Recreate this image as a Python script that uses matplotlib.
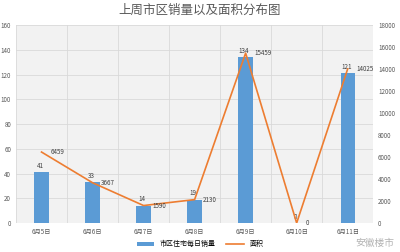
import matplotlib.pyplot as plt
import numpy as np

plt.rcParams['font.family'] = ['Noto Sans CJK SC', 'DejaVu Sans']

dates = ["6月5日", "6月6日", "6月7日", "6月8日", "6月9日", "6月10日", "6月11日"]
sales = [41, 33, 14, 19, 134, 0, 121]
area = [6459, 3667, 1590, 2130, 15459, 0, 14025]

fig = plt.figure(figsize=(4, 2.52), dpi=100)
ax = fig.add_axes([0.04, 0.115, 0.893, 0.785])
ax.set_facecolor("#f2f2f2")
x = np.arange(len(dates))

bars = ax.bar(x, sales, width=0.28, color="#5b9bd5", label="市区住宅每日销量", zorder=3)
ax.set_ylim(0, 160)
ax.set_yticks(range(0, 161, 20))
ax.set_xlim(-0.5, len(dates) - 0.5)
ax.set_xticks(x)
ax.set_xticklabels(dates)
ax.tick_params(axis="both", labelsize=4.5, colors="#595959", length=0)
ax.grid(axis="y", color="#d9d9d9", linewidth=0.6, zorder=0)
for b in np.arange(-0.5, len(dates), 1):
    ax.axvline(b, color="#d9d9d9", linewidth=0.6, zorder=0)
for s in ax.spines.values():
    s.set_visible(False)
for xi, v in zip(x, sales):
    ax.text(xi - 0.03, v + 2, str(v), ha="center", va="bottom", fontsize=4.5, color="#404040", zorder=5)

ax2 = ax.twinx()
ax2.plot(x, area, color="#ed7d31", linewidth=1.2, label="面积", zorder=4)
ax2.set_ylim(0, 18000)
ax2.set_yticks(range(0, 18001, 2000))
ax2.tick_params(axis="y", labelsize=4.5, colors="#595959", length=0)
for s in ax2.spines.values():
    s.set_visible(False)
for xi, v in zip(x, area):
    ax2.text(xi + 0.17, v, str(v), ha="left", va="center", fontsize=4.5, color="#404040", zorder=5)

fig.suptitle("上周市区销量以及面积分布图", x=0.5, y=0.985, fontsize=9, color="#595959")

h1, l1 = ax.get_legend_handles_labels()
h2, l2 = ax2.get_legend_handles_labels()
fig.legend(h1 + h2, l1 + l2, loc="lower center", bbox_to_anchor=(0.5, -0.01), ncol=2,
           fontsize=5, frameon=False, handlelength=2.5, handleheight=0.5, columnspacing=1.5)

fig.text(0.985, 0.035, "安徽楼市", ha="right", va="center", fontsize=7, color="#a0a0a0", alpha=0.8)

fig.savefig("out.png", dpi=100)
